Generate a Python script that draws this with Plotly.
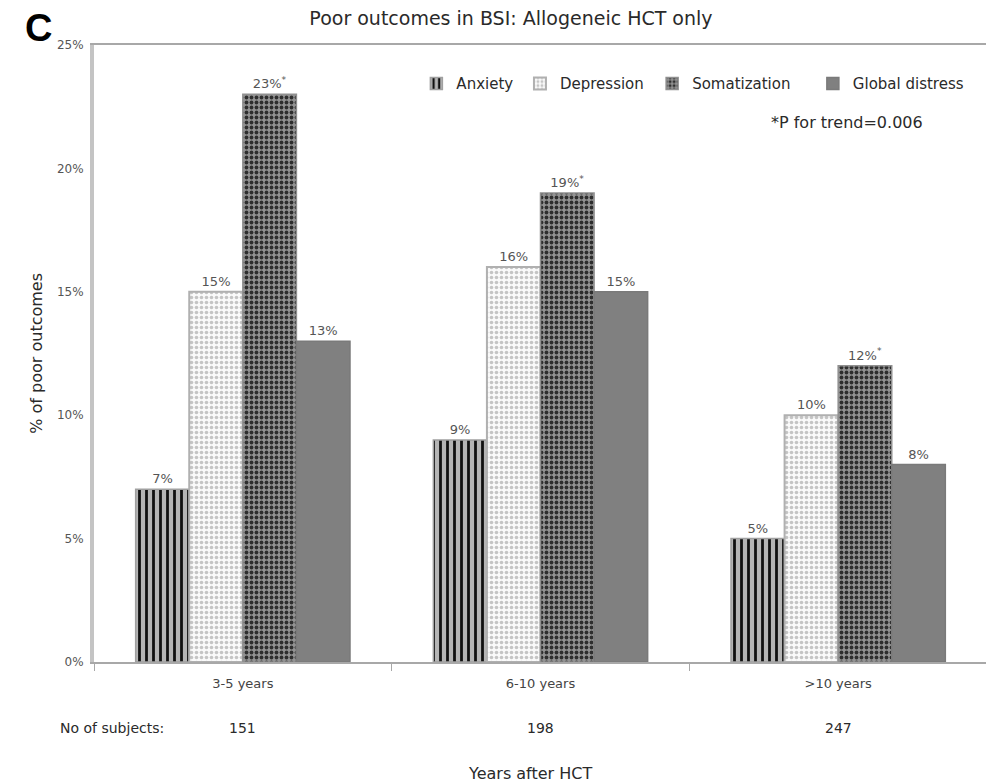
import plotly.graph_objects as go

categories = ["3-5 years", "6-10 years", ">10 years"]
subjects = ["151", "198", "247"]
anxiety = [7, 9, 5]
depression = [15, 16, 10]
somatization = [23, 19, 12]
global_distress = [13, 15, 8]
series_names = ["Anxiety", "Depression", "Somatization", "Global distress"]
y_ticks = [0, 5, 10, 15, 20, 25]
y_tick_labels = ["0%", "5%", "10%", "15%", "20%", "25%"]

FONT = "DejaVu Sans, Verdana, sans-serif"
TXT = "#2a2a2a"

def labels(vals, star=False):
    return [f"{v}%" + ("<sup>*</sup>" if star else "") for v in vals]

styles = [
    dict(pattern=dict(shape="|", fgcolor="#111111", bgcolor="#b5b5b5", size=7, solidity=0.4, fillmode="replace"),
         line=dict(color="#a0a0a0", width=1.5)),
    dict(pattern=dict(shape=".", fgcolor="#c4c4c4", bgcolor="#fafafa", size=5, solidity=0.4, fillmode="replace"),
         line=dict(color="#b0b0b0", width=2)),
    dict(pattern=dict(shape=".", fgcolor="#2e2e2e", bgcolor="#939393", size=5, solidity=0.45, fillmode="replace"),
         line=dict(color="#909090", width=1.5)),
    dict(color="#808080", line=dict(color="#7a7a7a", width=1.5)),
]
legend_ids = ["legend", "legend2", "legend3", "legend4"]
legend_x = [0.361, 0.477, 0.625, 0.805]

fig = go.Figure()
for name, vals, st, star, lid in zip(series_names,
                                      [anxiety, depression, somatization, global_distress],
                                      styles, [False, False, True, False], legend_ids):
    fig.add_bar(
        name=name, x=categories, y=vals,
        marker=st, legend=lid,
        text=labels(vals, star), textposition="outside", cliponaxis=False,
        textfont=dict(family=FONT, size=13, color="#555555"),
    )

legend_common = dict(orientation="h", y=0.937, xanchor="left", yanchor="middle",
                     font=dict(family=FONT, size=15, color=TXT), bgcolor="rgba(0,0,0,0)",
                     itemwidth=30)

fig.update_layout(
    width=994, height=782,
    margin=dict(l=86, r=11, t=37, b=128),
    paper_bgcolor="white", plot_bgcolor="white",
    barmode="group", bargap=0.28, bargroupgap=0,
    font=dict(family=FONT, size=12, color=TXT),
    title=dict(text="Poor outcomes in BSI: Allogeneic HCT only", x=0.506, xanchor="center",
               y=0.987, yanchor="middle", font=dict(family=FONT, size=19, color=TXT)),
    showlegend=True,
    xaxis=dict(showline=True, linecolor="#a8a8a8", linewidth=2, mirror=True,
               ticks="outside", tickcolor="#a8a8a8", ticklen=7, tickson="boundaries",
               ticklabelstandoff=8,
               tickfont=dict(family=FONT, size=13, color="#444444"), showgrid=False),
    yaxis=dict(range=[0, 25], tickvals=y_ticks, ticktext=y_tick_labels,
               showline=True, linecolor="#c4c4c4", linewidth=4, mirror=True,
               ticks="", ticklabelstandoff=4, showgrid=False,
               tickfont=dict(family=FONT, size=12, color="#555555"), zeroline=False),
)
for lid, lx in zip(legend_ids, legend_x):
    fig.update_layout({lid: dict(x=lx, **legend_common)})

def ann(text, x, y, size=14, xref="paper", **kw):
    fig.add_annotation(text=text, xref=xref, yref="paper", x=x, y=y, showarrow=False,
                       xanchor="center", yanchor="middle",
                       font=dict(family=FONT, size=size, color=kw.pop("color", TXT)), **kw)

ann("*P for trend=0.006", 0.843, 0.874, size=16)
ann("% of poor outcomes", -0.0647, 0.5, size=16, textangle=-90)
ann("No of subjects:", 0.020, -0.107, size=14)
for c, n in zip(categories, subjects):
    ann(n, c, -0.107, size=14, xref="x")
ann("Years after HCT", 0.488, -0.18, size=16)
fig.add_annotation(text="<b>C</b>", xref="paper", yref="paper", x=-0.0624, y=1.027,
                   showarrow=False, xanchor="center", yanchor="middle",
                   font=dict(family="Liberation Sans, Arial, sans-serif", size=38, color="#000000"))

fig.write_html("out.html")
